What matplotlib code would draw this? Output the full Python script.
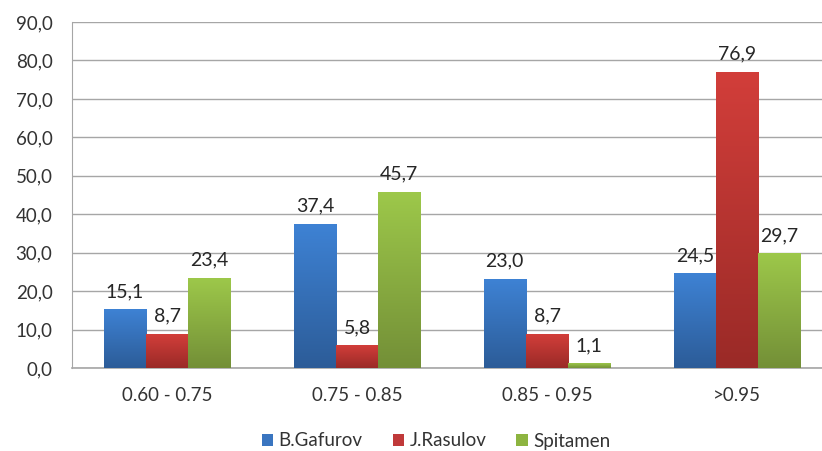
import numpy as np
import matplotlib
matplotlib.use("Agg")
import matplotlib.pyplot as plt
from matplotlib.colors import LinearSegmentedColormap
from matplotlib.patches import Patch

categories = ["0.60 - 0.75", "0.75 - 0.85", "0.85 - 0.95", ">0.95"]
series_names = ["B.Gafurov", "J.Rasulov", "Spitamen"]
gafurov = [15.1, 37.4, 23.0, 24.5]
rasulov = [8.7, 5.8, 8.7, 76.9]
spitamen = [23.4, 45.7, 1.1, 29.7]
yticks = [0, 10, 20, 30, 40, 50, 60, 70, 80, 90]

values = [gafurov, rasulov, spitamen]
top_colors = ["#3E82D4", "#D23E3A", "#9DC84A"]
bot_colors = ["#2C5C98", "#9A2A27", "#738F37"]
legend_colors = ["#3A75C0", "#C0393A", "#8DB440"]

plt.rcParams['font.family'] = ['Lato', 'DejaVu Sans']
fig = plt.figure(figsize=(8.22, 4.51), dpi=100)
ax = fig.add_axes([72/822, (451-368)/451, 1 - 72/822, (368-22)/451])

x = np.arange(len(categories))
w = 0.222
for i, (vals, tc, bc) in enumerate(zip(values, top_colors, bot_colors)):
    bars = ax.bar(x + (i - 1) * w, vals, w, color='none', edgecolor='none', zorder=3)
    cmap = LinearSegmentedColormap.from_list("g%d" % i, [bc, tc])
    grad = np.linspace(0, 1, 256).reshape(-1, 1)
    for b, v in zip(bars, vals):
        x0 = b.get_x()
        ax.imshow(grad, cmap=cmap, aspect='auto', origin='lower',
                  extent=[x0, x0 + b.get_width(), 0, v], zorder=3,
                  interpolation='bicubic')
        ax.annotate(("%.1f" % v).replace('.', ','), (x0 + b.get_width() / 2, v),
                    xytext=(0, 7), textcoords='offset points', ha='center',
                    va='bottom', fontsize=14, color='#262626', zorder=5)

ax.set_xlim(-0.5, (822 - 72) / 190 - 0.5)
ax.set_ylim(0, 90)
ax.set_yticks(yticks)
ax.set_yticklabels([("%.1f" % t).replace('.', ',') for t in yticks])
ax.set_xticks(x)
ax.set_xticklabels(categories)
ax.tick_params(axis='both', length=0, labelsize=13.5, labelcolor='#333333')
ax.tick_params(axis='y', pad=14)
ax.tick_params(axis='x', pad=14)
ax.grid(axis='y', color='#A6A6A6', linewidth=1.0, zorder=0)
ax.set_axisbelow(True)
for s in ['top', 'right']:
    ax.spines[s].set_visible(False)
ax.spines['left'].set_color('#A6A6A6')
ax.spines['bottom'].set_color('#A6A6A6')
ax.spines['bottom'].set_linewidth(1.2)

handles = [Patch(facecolor=c, edgecolor='none') for c in legend_colors]
fig.legend(handles, series_names, loc='center', bbox_to_anchor=(436/822, 1 - 441/451),
           ncol=3, frameon=False, fontsize=13.5, handlelength=0.6, handleheight=0.6,
           handletextpad=0.3, columnspacing=1.6)
for t in fig.legends[0].get_texts():
    t.set_color('#333333')

fig.savefig("out.png", dpi=100)
